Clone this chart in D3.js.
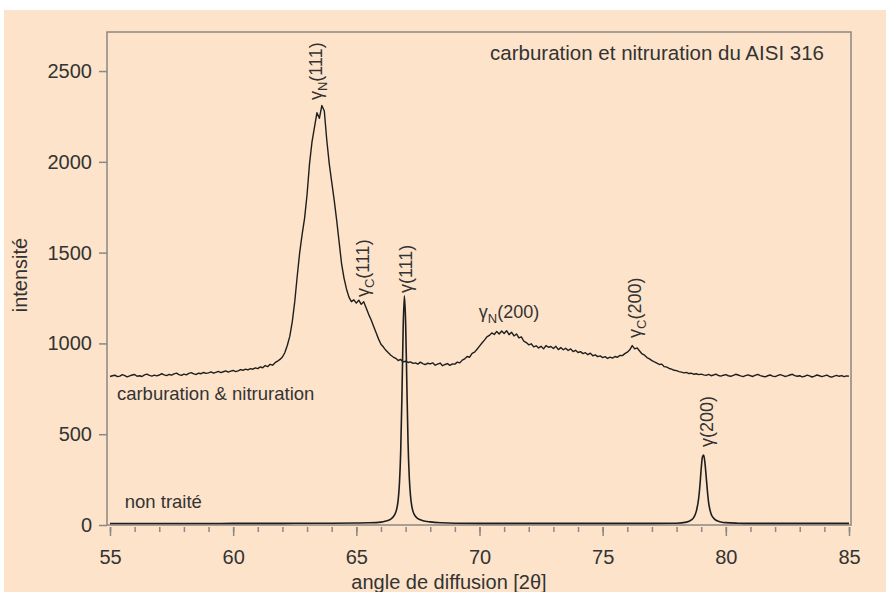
<!DOCTYPE html>
<html>
<head>
<meta charset="utf-8">
<script src="https://cdn.jsdelivr.net/npm/d3@7"></script>
<style>
body { margin: 0; background: #fff; }
text { font-family: "Liberation Sans", Arial, sans-serif; fill: #333; }
</style>
</head>
<body>
<div id="chart"></div>
<script>

// carburation & nitruration : one value every 0.1 deg from 55 to 85
var carbStart = 55;
var carbStep = 0.1;
var carbValues = [
	818, 822, 825, 817, 820, 828, 823, 816, 821, 826,
	829, 819, 822, 818, 827, 831, 824, 820, 825, 821,
	826, 833, 827, 823, 829, 825, 832, 836, 828, 824,
	831, 827, 835, 839, 832, 829, 836, 833, 840, 835,
	838, 843, 836, 841, 846, 839, 844, 849, 842, 847,
	851, 845, 849, 856, 852, 858, 854, 861, 858, 865,
	861, 871, 866, 878, 872, 885, 880, 894, 902, 912,
	925, 950, 990, 1040, 1120, 1230, 1370, 1500, 1600, 1690,
	1820, 1990, 2110, 2190, 2270, 2240, 2310, 2280, 2120, 1990,
	1890, 1790, 1680, 1560, 1440, 1360, 1300, 1255, 1230, 1240,
	1222, 1238, 1215, 1230, 1195, 1160, 1130, 1095, 1060, 1025,
	995, 980, 962, 948, 935, 925, 918, 906, 912, 898,
	902, 895, 898, 890, 893, 886, 897, 889, 883, 891,
	887, 893, 880, 886, 892, 877, 884, 889, 879, 887,
	886, 897, 893, 908, 915, 928, 924, 945, 952, 968,
	985, 1002, 1018, 1036, 1044, 1058, 1049, 1066, 1052, 1068,
	1055, 1070, 1048, 1062, 1041, 1052, 1030, 1036, 1012, 1005,
	992, 998, 981, 987, 975, 984, 970, 988, 979, 983,
	972, 984, 966, 977, 965, 973, 961, 970, 955, 962,
	950, 955, 944, 949, 938, 946, 932, 937, 927, 931,
	922, 927, 917, 924, 919, 928, 924, 934, 933, 944,
	952, 965, 988, 970, 975, 958, 942, 935, 922, 915,
	905, 898, 892, 884, 886, 872, 870, 862, 858, 852,
	850, 845, 842, 838, 840, 834, 836, 830, 833, 828,
	831, 827, 824, 829, 822, 826, 831, 823, 820, 825,
	828, 822, 819, 824, 830, 826, 821, 817, 823, 827,
	822, 818, 825, 829, 823, 819, 816, 822, 826, 820,
	817, 823, 828, 824, 818, 821, 826, 830, 823, 819,
	822, 816, 819, 825, 821, 815, 820, 826, 822, 817,
	821, 825, 818, 814, 820, 824, 819, 823, 817, 821,
	820
];

// non traité
var rawAngles = [
	55, 56, 57, 58, 59, 60, 61, 62, 63, 64, 65, 65.5, 66, 66.2, 66.4, 66.5,
	66.6, 66.65, 66.7, 66.75, 66.8, 66.85, 66.9, 66.95, 67, 67.05, 67.1,
	67.15, 67.2, 67.25, 67.3, 67.4, 67.5, 67.7, 68, 68.5, 69, 70, 71, 72,
	73, 74, 75, 76, 77, 78, 78.4, 78.6, 78.7, 78.8, 78.9, 78.95, 79, 79.05,
	79.1, 79.15, 79.2, 79.25, 79.3, 79.4, 79.5, 79.6, 79.8, 80, 80.5, 81,
	82, 83, 84, 85
];
var rawValues = [
	8, 8, 8, 8, 8, 9, 9, 9, 10, 10, 11, 12, 16, 22, 32, 45,
	70, 95, 140, 230, 400, 700, 1080, 1262, 1120, 780, 450,
	260, 160, 105, 75, 48, 35, 24, 17, 12, 10, 9, 9, 9,
	9, 9, 9, 9, 9, 10, 16, 28, 42, 75, 150, 220, 310, 375,
	385, 345, 270, 190, 125, 62, 38, 26, 17, 13, 10, 9,
	9, 9, 9, 9
];

var xTicksMajor = [55, 60, 65, 70, 75, 80, 85];
var xTicksMinor = [55, 56, 57, 58, 59, 60, 61, 62, 63, 64, 65, 66, 67, 68, 69, 70,
	71, 72, 73, 74, 75, 76, 77, 78, 79, 80, 81, 82, 83, 84, 85];
var yTicks = [0, 500, 1000, 1500, 2000, 2500];

var peakNames = ["γ", "γ", "γ", "γ", "γ", "γ"];
var peakSubs = ["N", "C", "", "N", "C", ""];
var peakHkl = ["(111)", "(111)", "(111)", "(200)", "(200)", "(200)"];
var peakAngles = [63.36, 65.27, 67.02, 71.2, 76.3, 79.24];
var peakLevels = [2340, 1255, 1277, 1140, 1030, 430];
var peakVertical = [true, true, true, false, true, true];

var width = 886;
var height = 592;

var svg = d3.select("#chart")
		.append("svg")
		.attr("width", width)
		.attr("height", height);

svg.append("rect")
	.attr("x", 4)
	.attr("y", 10)
	.attr("width", width - 4)
	.attr("height", height - 10)
	.attr("fill", "#fde3ca");

var xScale = d3.scaleLinear()
		.domain([55, 85])
		.range([110, 849]);

var yScale = d3.scaleLinear()
		.domain([0, 2715])
		.range([525, 32]);

// frame
svg.append("rect")
	.attr("x", 107)
	.attr("y", 32)
	.attr("width", 851 - 107)
	.attr("height", 525 - 32)
	.attr("fill", "none")
	.attr("stroke", "#8c8784")
	.attr("stroke-width", 1.5);

var xMinor = d3.axisBottom(xScale)
		.tickValues(xTicksMinor)
		.tickSize(5)
		.tickSizeOuter(0)
		.tickFormat("");

var xMajor = d3.axisBottom(xScale)
		.tickValues(xTicksMajor)
		.tickSize(9)
		.tickSizeOuter(0)
		.tickPadding(14)
		.tickFormat(d3.format("d"));

var yAxis = d3.axisLeft(yScale)
		.tickValues(yTicks)
		.tickSize(8)
		.tickSizeOuter(0)
		.tickPadding(7)
		.tickFormat(d3.format("d"));

var gxMinor = svg.append("g")
	.attr("transform", "translate(0,527)")
	.call(xMinor);

var gxMajor = svg.append("g")
	.attr("transform", "translate(0,527)")
	.call(xMajor);

var gy = svg.append("g")
	.attr("transform", "translate(107,0)")
	.call(yAxis);

[gxMinor, gxMajor, gy].forEach(function(g) {
	g.select(".domain").remove();
	g.selectAll(".tick line").attr("stroke", "#8c8784").attr("stroke-width", 1.5);
	g.selectAll(".tick text")
		.attr("fill", "#333")
		.style("font-size", "20px")
		.style("font-family", "'Liberation Sans', Arial, sans-serif");
});

svg.append("text")
	.attr("transform", "translate(27,275) rotate(-90)")
	.style("text-anchor", "middle")
	.style("font-size", "20px")
	.text("intensité");

svg.append("text")
	.attr("x", 449)
	.attr("y", 589)
	.style("text-anchor", "middle")
	.style("font-size", "20px")
	.text("angle de diffusion [2θ]");

var line = d3.line()
		.x(function(d) { return xScale(d[0]); })
		.y(function(d) { return yScale(d[1]); });

var carbData = carbValues.map(function(v, i) {
	return [carbStart + i * carbStep, v];
});
var rawData = rawAngles.map(function(a, i) {
	return [a, rawValues[i]];
});

svg.append("path")
	.datum(carbData)
	.attr("d", line)
	.attr("fill", "none")
	.attr("stroke", "#1e1e1e")
	.attr("stroke-width", 1.4)
	.attr("stroke-linejoin", "round");

svg.append("path")
	.datum(rawData)
	.attr("d", line.curve(d3.curveMonotoneX))
	.attr("fill", "none")
	.attr("stroke", "#1e1e1e")
	.attr("stroke-width", 1.6);

// series labels
svg.append("text")
	.attr("x", xScale(55.28))
	.attr("y", yScale(688))
	.style("font-size", "18.5px")
	.text("carburation & nitruration");

svg.append("text")
	.attr("x", xScale(55.6))
	.attr("y", yScale(94))
	.style("font-size", "18.5px")
	.text("non traité");

svg.append("text")
	.attr("x", xScale(70.43))
	.attr("y", yScale(2560))
	.style("font-size", "20.5px")
	.text("carburation et nitruration du AISI 316");

// peak labels
peakNames.forEach(function(name, i) {
	var px = xScale(peakAngles[i]);
	var py = yScale(peakLevels[i]);
	var t = svg.append("text")
		.style("font-size", "18px")
		.style("text-anchor", peakVertical[i] ? "start" : "middle");
	if (peakVertical[i]) {
		t.attr("transform", "translate(" + (px + 6) + "," + py + ") rotate(-90)");
	} else {
		t.attr("x", px).attr("y", py);
	}
	t.append("tspan").text(name);
	if (peakSubs[i]) {
		t.append("tspan")
			.attr("dy", 5)
			.style("font-size", "13px")
			.text(peakSubs[i]);
		t.append("tspan").attr("dy", -5).text(peakHkl[i]);
	} else {
		t.append("tspan").text(peakHkl[i]);
	}
});

</script>
</body>
</html>
